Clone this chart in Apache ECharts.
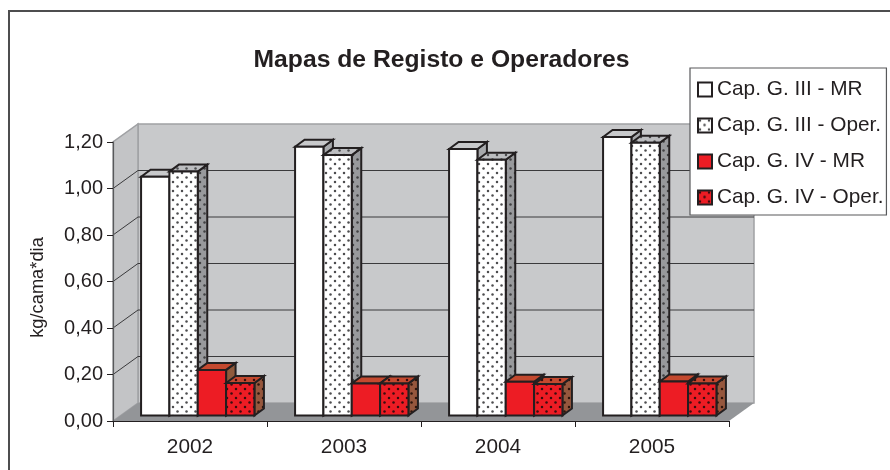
<!DOCTYPE html>
<html><head><meta charset="utf-8">
<style>html,body{margin:0;padding:0;background:#fff}#c{width:890px;height:470px}</style>
<script src="https://cdn.jsdelivr.net/npm/echarts@6/dist/echarts.min.js"></script>
</head><body><div id="c"></div>
<script>
const titleText = 'Mapas de Registo e Operadores';
const yName = 'kg/cama*dia';
const categories = ['2002','2003','2004','2005'];
const yTicks = [0,0.2,0.4,0.6,0.8,1.0,1.2];
const seriesNames = ['Cap. G. III - MR','Cap. G. III - Oper.','Cap. G. IV - MR','Cap. G. IV - Oper.'];
const g3MR   = [1.027,1.156,1.146,1.198];
const g3Oper = [1.049,1.120,1.100,1.173];
const g4MR   = [0.196,0.138,0.145,0.146];
const g4Oper = [0.140,0.138,0.135,0.138];

const FONT = '"Liberation Sans", Arial, sans-serif';
const INK = '#231f20';
const DEPTH = {x:25, y:-18};
const BAR_D = {x:9.5, y:-7};
const BAR_SHIFT = {x:7.75, y:-5.5};
const BAR_W_RATIO = 0.184;

function dots(bg, dot){
  const s=9, c=document.createElement('canvas'); c.width=s; c.height=s;
  const x=c.getContext('2d'); x.fillStyle=bg; x.fillRect(0,0,s,s);
  x.fillStyle=dot;
  [[2,2],[6.5,6.5]].forEach(p=>{x.beginPath();x.arc(p[0],p[1],1.25,0,7);x.fill();});
  return {image:c, repeat:'repeat'};
}
const styles = [
  {front:'#ffffff', top:'#c8c9cb', side:'#a7a9ac'},
  {front:dots('#ffffff','#4d4d4f'), top:dots('#bcbdc0','#4d4d4f'), side:dots('#98999c','#414143')},
  {front:'#ed1c24', top:'#c4492f', side:'#8f5a3c'},
  {front:dots('#ed1c24','#3a0d0f'), top:dots('#c4492f','#3a0d0f'), side:dots('#96573d','#2e150c')}
];
const valueSets = [g3MR,g3Oper,g4MR,g4Oper];

function barSeries(i){
  const st = styles[i];
  return {
    type:'custom', name:seriesNames[i], z:5,
    itemStyle:{color:st.front, borderColor:INK, borderWidth:1.8},
    data: categories.map((c,k)=>[k,valueSets[i][k]]),
    encode:{x:0,y:1},
    renderItem(params, api){
      const k=api.value(0), v=api.value(1);
      const base=api.coord([k,0]), top=api.coord([k,v]);
      const w=api.size([1,0])[0]*BAR_W_RATIO;
      const x0=base[0]+BAR_SHIFT.x-2*w+i*w, x1=x0+w;
      const y0=base[1]+BAR_SHIFT.y, y1=top[1]+BAR_SHIFT.y;
      const dx=BAR_D.x, dy=BAR_D.y;
      const line={stroke:INK, lineWidth:2, lineJoin:'miter'};
      return {type:'group', children:[
        {type:'polygon', shape:{points:[[x1,y0],[x1+dx,y0+dy],[x1+dx,y1+dy],[x1,y1]]}, style:{fill:st.side,...line}},
        {type:'polygon', shape:{points:[[x0,y1],[x0+dx,y1+dy],[x1+dx,y1+dy],[x1,y1]]}, style:{fill:st.top,...line}},
        {type:'rect', shape:{x:x0,y:y1,width:w,height:y0-y1}, style:{fill:st.front,...line}}
      ]};
    }
  };
}

const wallSeries = {
  type:'custom', name:'walls', z:1, silent:true,
  data:[[0,0]], encode:{x:0,y:1},
  renderItem(params, api){
    const cs=params.coordSys;
    const xL=cs.x, xR=cs.x+cs.width;
    const Y=v=>api.coord([0,v])[1];
    const yB=Y(0), yT=Y(1.2), dx=DEPTH.x, dy=DEPTH.y;
    const ch=[
      {type:'polygon',shape:{points:[[xL+dx,yB+dy],[xR+dx,yB+dy],[xR+dx,yT+dy],[xL+dx,yT+dy]]},style:{fill:'#c8c9cb',stroke:'#a0a1a4',lineWidth:1.5}},
      {type:'polygon',shape:{points:[[xL,yB],[xL+dx,yB+dy],[xL+dx,yT+dy],[xL,yT]]},style:{fill:'#c3c4c6',stroke:'#a0a1a4',lineWidth:1.5}},
      {type:'polygon',shape:{points:[[xL,yB],[xR,yB],[xR+dx,yB+dy],[xL+dx,yB+dy]]},style:{fill:'#939598'}}
    ];
    yTicks.slice(1,-1).forEach(v=>{
      const y=Y(v);
      ch.push({type:'polyline',shape:{points:[[xL,y],[xL+dx,y+dy],[xR+dx,y+dy]]},style:{fill:'none',stroke:'#3a3a3c',lineWidth:1}});
    });
    return {type:'group',children:ch};
  }
};

const chart = echarts.init(document.getElementById('c'),null,{renderer:'canvas'});
chart.setOption({
  animation:false,
  backgroundColor:'#fff',
  title:{text:titleText,left:436.5,top:43,textAlign:'center',
    textStyle:{fontFamily:FONT,fontSize:24.7,fontWeight:'bold',color:INK}},
  grid:{left:113,right:161,top:142,bottom:49,containLabel:false},
  legend:{
    orient:'vertical',left:690,top:68,
    padding:[11,3,7,7],itemWidth:14,itemHeight:14,itemGap:15,
    backgroundColor:'#fff',borderColor:'#58595b',borderWidth:1.2,
    data:seriesNames, icon:'rect', selectedMode:false, z:10,
    textStyle:{fontFamily:FONT,fontSize:20.8,lineHeight:21,color:INK}
  },
  xAxis:{type:'category',data:categories,boundaryGap:true,
    axisLine:{lineStyle:{color:INK,width:1.2}},
    axisTick:{show:true,alignWithLabel:false,length:6,lineStyle:{color:INK,width:1}},
    axisLabel:{fontFamily:FONT,fontSize:20.8,color:INK,margin:16},z:3},
  yAxis:{type:'value',min:0,max:1.2,interval:0.2,
    name:yName,nameLocation:'middle',nameRotate:90,nameGap:66,
    nameTextStyle:{fontFamily:FONT,fontSize:18.3,color:INK,padding:[0,12,0,0]},
    axisLine:{show:true,lineStyle:{color:'#58595b',width:1.2}},
    axisTick:{show:true,length:6,lineStyle:{color:INK,width:1}},
    splitLine:{show:false},
    axisLabel:{fontFamily:FONT,fontSize:20,color:INK,margin:10,
      formatter:v=>v.toFixed(2).replace('.',',')},z:3},
  series:[wallSeries,...seriesNames.map((n,i)=>barSeries(i))],
  graphic:[
    {type:'polyline',silent:true,z:0,shape:{points:[[9,470],[9,11],[890,11]]},style:{fill:'none',stroke:'#4d4d4f',lineWidth:2}}
  ]
});
</script></body></html>
